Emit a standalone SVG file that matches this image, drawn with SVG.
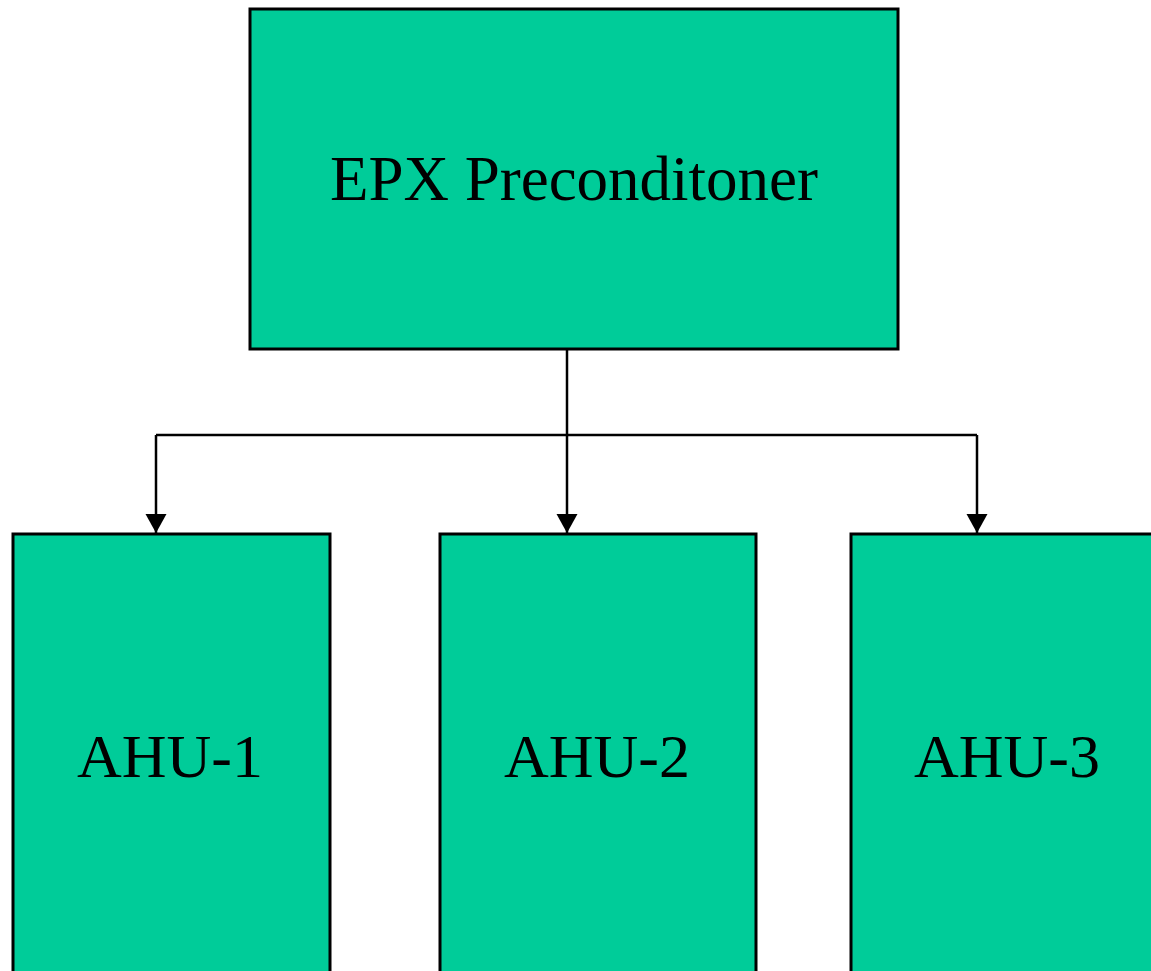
<svg xmlns="http://www.w3.org/2000/svg" width="1151" height="971" viewBox="0 0 1151 971">
<style>
.box{fill:#00CC99;stroke:#000;stroke-width:3}
.lbl{font-family:"Liberation Serif","Times New Roman",serif;font-size:62px;fill:#000;text-anchor:middle}
.big{font-size:63px}
.conn{fill:none;stroke:#000;stroke-width:2.5}
</style>
<defs>
<marker id="arr" markerUnits="userSpaceOnUse" markerWidth="22" markerHeight="22" refX="19" refY="10.5" orient="auto">
<path d="M0,0 L19,10.5 L0,21 Z" fill="#000"/>
</marker>
</defs>
<rect width="1151" height="971" fill="#fff"/>
<g id="epx">
<rect class="box" x="250" y="9" width="648" height="340"/>
<text class="lbl big" x="574" y="200" textLength="488" lengthAdjust="spacingAndGlyphs">EPX Preconditoner</text>
</g>
<g id="ahu1">
<rect class="box" x="13" y="534" width="317" height="450"/>
<text class="lbl" x="170" y="777">AHU-1</text>
</g>
<g id="ahu2">
<rect class="box" x="440" y="534" width="316" height="450"/>
<text class="lbl" x="597" y="777">AHU-2</text>
</g>
<g id="ahu3">
<rect class="box" x="851" y="534" width="316" height="450"/>
<text class="lbl" x="1007" y="777">AHU-3</text>
</g>
<g id="connectors">
<path class="conn" d="M567,349 V435"/>
<path class="conn" d="M156,435 H977"/>
<path class="conn" d="M156,435 V533" marker-end="url(#arr)"/>
<path class="conn" d="M567,435 V533" marker-end="url(#arr)"/>
<path class="conn" d="M977,435 V533" marker-end="url(#arr)"/>
</g>
</svg>
